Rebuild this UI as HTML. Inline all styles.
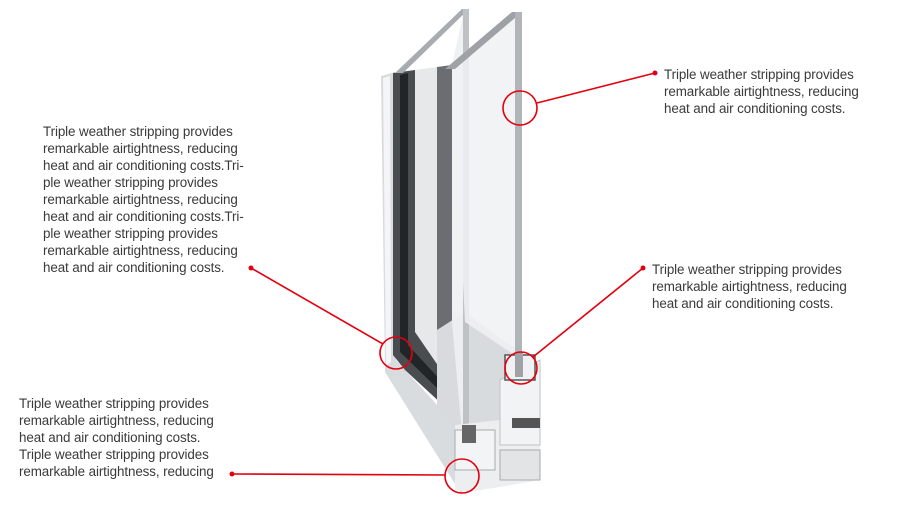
<!DOCTYPE html>
<html><head><meta charset="utf-8"><style>
html,body{margin:0;padding:0;background:#fff;width:913px;height:505px;overflow:hidden;position:relative}
.t{position:absolute;font-family:"Liberation Sans",sans-serif;font-size:13.4px;line-height:17px;color:#3a3a3a;white-space:pre;letter-spacing:-0.1px}
svg{position:absolute;left:0;top:0}
</style></head><body>
<svg width="913" height="505" viewBox="0 0 913 505">
<!-- outer frame left strip and bottom -->
<polygon points="381,76 395,72 396,360 462,432 462,495 385,372" fill="#d9dcdf"/>
<polygon points="383,78 390,76 391,362 386,366" fill="#f4f5f6"/>
<!-- dark channel -->
<polygon points="393,73 415,70 415,330 470,398 470,430 405,370 393,355" fill="#4a4d50"/>
<polygon points="400,75 408,73 408,345 470,412 470,420 400,352" fill="#222528"/>
<!-- sash vertical -->
<polygon points="415,70 437,67 437,330 465,355 465,405 415,332" fill="#e6e8ea"/>
<polygon points="437,67 452,65 452,322 437,330" fill="#6a6e72"/>
<!-- bottom sash panel -->
<polygon points="437,330 465,312 520,352 520,440 466,440 437,410" fill="#d8dbde"/>
<!-- rear glass -->
<polygon points="452,65 463,14 469,10 469,445 463,445 452,322" fill="#eef0f2" opacity="0.9"/>
<polygon points="395,73 462,9 469,9 403,73" fill="#a8acb0"/>
<rect x="463" y="9" width="6" height="438" fill="#bfc2c5"/>
<!-- front glass -->
<polygon points="447,68 513,13 522,12 522,360 465,322 452,65" fill="#f0f1f3" opacity="0.85"/>
<polygon points="445,69 512,12 522,12 455,69" fill="#9ea2a6"/>
<rect x="515" y="12" width="7" height="350" fill="#b1b5b8"/>
<!-- bottom profile -->
<polygon points="455,425 500,420 540,380 540,480 470,492 455,490" fill="#eceef0"/>
<polygon points="500,380 540,360 540,445 500,445" fill="#f2f3f4" stroke="#bfc2c5" stroke-width="1"/>
<rect x="505" y="355" width="30" height="25" fill="#f0f1f2" stroke="#555" stroke-width="1.5"/>
<rect x="515" y="352" width="8" height="25" fill="#a0a3a6"/>
<rect x="512" y="418" width="28" height="10" fill="#555"/>
<rect x="455" y="430" width="40" height="40" fill="#f3f4f5" stroke="#aaa" stroke-width="1"/>
<rect x="462" y="425" width="14" height="18" fill="#666"/>
<rect x="500" y="450" width="40" height="30" fill="#e2e4e6" stroke="#aaa"/>
<!-- red annotations -->
<g stroke="#e3000f" stroke-width="1.6" fill="none">
<line x1="251" y1="268" x2="383" y2="344"/><circle cx="396" cy="353" r="16"/>
<line x1="655" y1="73" x2="537" y2="103"/><circle cx="520" cy="108" r="17"/>
<line x1="643" y1="268" x2="533" y2="357"/><circle cx="521" cy="368" r="16"/>
<line x1="232" y1="474" x2="445" y2="475"/><circle cx="462" cy="476" r="17"/>
</g>
<g fill="#e3000f"><circle cx="251" cy="268" r="2.5"/><circle cx="655" cy="73" r="2.5"/><circle cx="643" cy="268" r="2.5"/><circle cx="232" cy="474" r="2.5"/></g>
</svg>
<div class="t" style="left:43px;top:123px">Triple weather stripping provides
remarkable airtightness, reducing
heat and air conditioning costs.Tri-
ple weather stripping provides
remarkable airtightness, reducing
heat and air conditioning costs.Tri-
ple weather stripping provides
remarkable airtightness, reducing
heat and air conditioning costs.</div>
<div class="t" style="left:664px;top:66px">Triple weather stripping provides
remarkable airtightness, reducing
heat and air conditioning costs.</div>
<div class="t" style="left:652px;top:261px">Triple weather stripping provides
remarkable airtightness, reducing
heat and air conditioning costs.</div>
<div class="t" style="left:19px;top:395px">Triple weather stripping provides
remarkable airtightness, reducing
heat and air conditioning costs.
Triple weather stripping provides
remarkable airtightness, reducing</div>
</body></html>
